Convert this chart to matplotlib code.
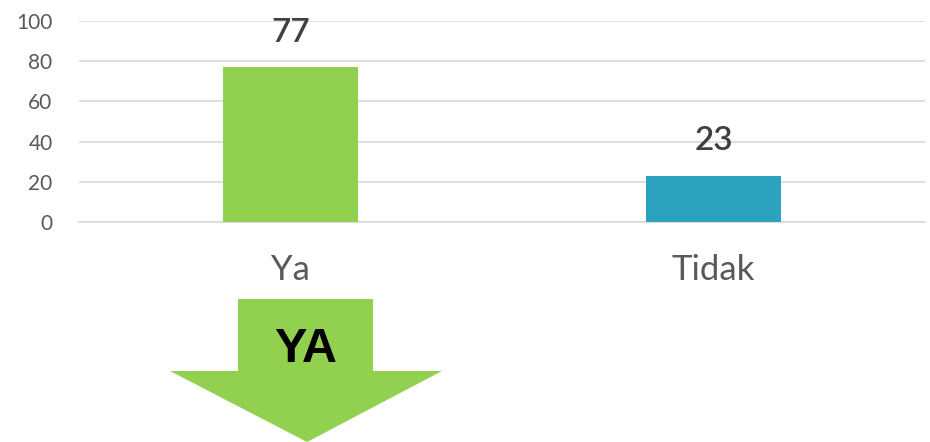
import matplotlib.pyplot as plt
from matplotlib.patches import Polygon

# data
categories = ['Ya', 'Tidak']
values = [77, 23]
colors = ['#92D050', '#2CA2BF']
y_ticks = [0, 20, 40, 60, 80, 100]
arrow_text = 'YA'

plt.rcParams['font.family'] = ['Lato', 'DejaVu Sans']

fig = plt.figure(figsize=(9.3, 4.42), dpi=100)
ax = fig.add_axes([79 / 930, 1 - 222 / 442, (925 - 79) / 930, (222 - 21) / 442])

x = range(len(categories))
bars = ax.bar(x, values, width=0.317, color=colors, zorder=3)

for xi, v in zip(x, values):
    ax.annotate(str(v), (xi, v), xytext=(0, 14), textcoords='offset points',
                ha='center', va='bottom', fontsize=24, color='#404040',
                fontweight='semibold')

ax.set_xlim(-0.5, len(categories) - 0.5)
ax.set_ylim(0, 100)
ax.set_yticks(y_ticks)
ax.set_xticks(list(x))
ax.set_xticklabels(categories)
ax.tick_params(axis='y', length=0, pad=19, labelsize=15, labelcolor='#595959')
ax.tick_params(axis='x', length=0, pad=23, labelsize=25, labelcolor='#595959')
ax.grid(axis='y', color='#D9D9D9', linewidth=1.2, zorder=0)
for s in ['top', 'right', 'left']:
    ax.spines[s].set_visible(False)
ax.spines['bottom'].set_color('#D9D9D9')
ax.spines['bottom'].set_linewidth(1.2)

# down arrow decoration under "Ya"
ov = fig.add_axes([0, 0, 1, 1], zorder=-1)
ov.set_xlim(0, 930)
ov.set_ylim(442, 0)
ov.axis('off')
arrow = Polygon([(238, 299), (373, 299), (373, 371), (442, 371), (307, 442),
                 (170, 371), (238, 371)], closed=True, facecolor='#92D050',
                edgecolor='none')
ov.add_patch(arrow)
ov.text(306, 349, arrow_text, ha='center', va='center', fontsize=35,
        fontweight='bold', color='black', family=['Liberation Sans', 'DejaVu Sans'])

fig.savefig('out.png', dpi=100)
